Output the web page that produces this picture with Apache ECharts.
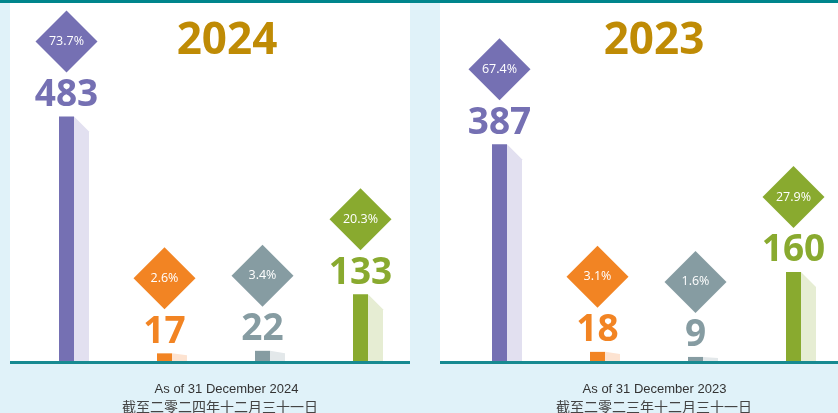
<!DOCTYPE html>
<html>
<head>
<meta charset="utf-8">
<script src="https://cdn.jsdelivr.net/npm/echarts@6/dist/echarts.min.js"></script>
<style>
  html, body { margin: 0; padding: 0; background: #e0f2f9; }
  #chart { width: 838px; height: 413px; }
</style>
</head>
<body>
<div id="chart"></div>
<script>
// data
const categories = ['A', 'B', 'C', 'D'];
const values2024 = [483, 17, 22, 133];
const share2024 = ['73.7%', '2.6%', '3.4%', '20.3%'];
const values2023 = [387, 18, 9, 160];
const share2023 = ['67.4%', '3.1%', '1.6%', '27.9%'];
const yearTitles = ['2024', '2023'];
const captionsEn = ['As of 31 December 2024', 'As of 31 December 2023'];
const captionsZh = ['截至二零二四年十二月三十一日', '截至二零二三年十二月三十一日'];

const barColors = ['#7570b3', '#f28423', '#869ca2', '#89aa2f'];
const shadowColors = ['#e2e0f0', '#fde3d1', '#e3e8ea', '#e6edd3'];

const BAR_W = 15;
const chart = echarts.init(document.getElementById('chart'));

// bar + slanted shadow + value + diamond with share
const renderBar = (shares) => (params, api) => {
  const idx = api.value(0);
  const val = api.value(1);
  const top = api.coord([idx, val]);
  const base = api.coord([idx, 0]);
  const x0 = top[0] - BAR_W; // category point sits between the bar and its shadow
  const x1 = top[0];
  const h = base[1] - top[1];
  const d = Math.min(15, h * 0.22);
  const cx = x0 + BAR_W / 2;
  const numY = top[1] - 21;
  const dy = top[1] - 75;
  const r = 31;
  return {
    type: 'group',
    children: [
      {
        type: 'polygon',
        shape: { points: [[x1, top[1]], [x1 + BAR_W, top[1] + d], [x1 + BAR_W, base[1]], [x1, base[1]]] },
        style: { fill: shadowColors[idx] }
      },
      {
        type: 'rect',
        shape: { x: x0, y: top[1], width: BAR_W, height: h },
        style: { fill: barColors[idx] }
      },
      {
        type: 'text', x: cx, y: numY,
        style: { text: String(val), fill: barColors[idx], font: 'bold 37px "Open Sans"', textAlign: 'center', textVerticalAlign: 'middle' }
      },
      {
        type: 'polygon',
        shape: { points: [[cx, dy - r], [cx + r, dy], [cx, dy + r], [cx - r, dy]] },
        style: { fill: barColors[idx] }
      },
      {
        type: 'text', x: cx, y: dy,
        style: { text: shares[idx], fill: '#ffffff', font: '12.5px "Open Sans"', textAlign: 'center', textVerticalAlign: 'middle' }
      }
    ]
  };
};

const option = {
  backgroundColor: '#e0f2f9',
  animation: false,
  grid: [
    { left: 74, top: 62, width: 294, height: 300 },
    { left: 507, top: 62, width: 294, height: 300 }
  ],
  xAxis: [
    { type: 'category', gridIndex: 0, data: categories, boundaryGap: false, show: false },
    { type: 'category', gridIndex: 1, data: categories, boundaryGap: false, show: false }
  ],
  yAxis: [
    { type: 'value', gridIndex: 0, min: 0, max: 590, show: false },
    { type: 'value', gridIndex: 1, min: 0, max: 533, show: false }
  ],
  graphic: [
    { type: 'rect', z: -10, shape: { x: 0, y: 0, width: 838, height: 3 }, style: { fill: '#00858c' } },
    { type: 'rect', z: -10, shape: { x: 10, y: 3, width: 400, height: 359 }, style: { fill: '#ffffff' } },
    { type: 'rect', z: -10, shape: { x: 440, y: 3, width: 398, height: 359 }, style: { fill: '#ffffff' } },
    { type: 'rect', z: 100, shape: { x: 10, y: 361, width: 400, height: 3 }, style: { fill: '#178a91' } },
    { type: 'rect', z: 100, shape: { x: 440, y: 361, width: 398, height: 3 }, style: { fill: '#178a91' } },
    { type: 'text', x: 227, y: 41, style: { text: yearTitles[0], fill: '#bf8b05', font: 'bold 44px "Open Sans"', textAlign: 'center', textVerticalAlign: 'middle' } },
    { type: 'text', x: 654, y: 41, style: { text: yearTitles[1], fill: '#bf8b05', font: 'bold 44px "Open Sans"', textAlign: 'center', textVerticalAlign: 'middle' } },
    { type: 'text', x: 226.5, y: 389, style: { text: captionsEn[0], fill: '#333333', font: '13px "Liberation Sans"', textAlign: 'center', textVerticalAlign: 'middle' } },
    { type: 'text', x: 654.5, y: 389, style: { text: captionsEn[1], fill: '#333333', font: '13px "Liberation Sans"', textAlign: 'center', textVerticalAlign: 'middle' } },
    { type: 'text', x: 220, y: 407, style: { text: captionsZh[0], fill: '#444444', font: '14px "Noto Sans CJK TC"', textAlign: 'center', textVerticalAlign: 'middle' } },
    { type: 'text', x: 654, y: 407, style: { text: captionsZh[1], fill: '#444444', font: '14px "Noto Sans CJK TC"', textAlign: 'center', textVerticalAlign: 'middle' } }
  ],
  series: [
    {
      type: 'custom',
      xAxisIndex: 0,
      yAxisIndex: 0,
      renderItem: renderBar(share2024),
      encode: { x: 0, y: 1 },
      data: values2024.map((v, i) => [i, v])
    },
    {
      type: 'custom',
      xAxisIndex: 1,
      yAxisIndex: 1,
      renderItem: renderBar(share2023),
      encode: { x: 0, y: 1 },
      data: values2023.map((v, i) => [i, v])
    }
  ]
};

chart.setOption(option);
</script>
</body>
</html>
